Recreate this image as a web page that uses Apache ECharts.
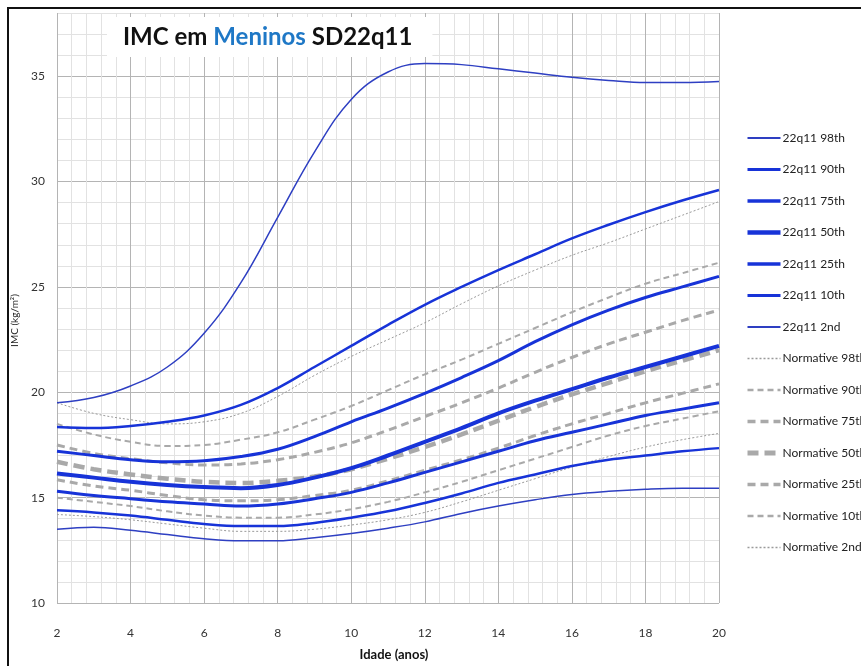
<!DOCTYPE html>
<html>
<head>
<meta charset="utf-8">
<script src="https://cdn.jsdelivr.net/npm/echarts@6/dist/echarts.min.js"></script>
<style>
html,body{margin:0;padding:0;background:#fff;}
#chart{width:861px;height:666px;}
</style>
</head>
<body>
<div id="chart"></div>
<script>
// Ages (years)
const ages = [2,3,4,5,6,7,8,9,10,11,12,13,14,15,16,17,18,19,20];

// 22q11 percentiles (IMC kg/m2)
const q98 = [19.5,19.75,20.3,21.2,22.8,25.2,28.3,31.4,33.9,35.2,35.6,35.55,35.35,35.15,34.95,34.8,34.7,34.7,34.75];
const q90 = [18.35,18.3,18.4,18.6,18.9,19.4,20.2,21.2,22.2,23.2,24.15,25.0,25.8,26.55,27.3,27.95,28.55,29.1,29.6];
const q75 = [17.2,17.0,16.8,16.7,16.75,16.95,17.3,17.9,18.6,19.25,19.95,20.7,21.5,22.4,23.2,23.9,24.5,25.0,25.5];
const q50 = [16.15,15.95,15.75,15.6,15.5,15.45,15.6,15.95,16.4,17.0,17.65,18.3,19.0,19.6,20.15,20.7,21.2,21.7,22.2];
const q25 = [15.3,15.1,14.95,14.8,14.7,14.6,14.7,14.95,15.25,15.7,16.2,16.7,17.2,17.7,18.1,18.5,18.9,19.2,19.5];
const q10 = [14.4,14.3,14.15,13.95,13.75,13.65,13.65,13.8,14.05,14.35,14.75,15.2,15.7,16.1,16.5,16.8,17.0,17.2,17.35];
const q02 = [13.5,13.6,13.45,13.25,13.05,12.95,12.95,13.1,13.3,13.55,13.85,14.25,14.6,14.9,15.15,15.3,15.4,15.45,15.45];

// Normative percentiles
const n98 = [19.5,19.0,18.7,18.5,18.6,19.0,19.8,20.8,21.7,22.5,23.3,24.2,25.05,25.8,26.5,27.1,27.75,28.4,29.05];
const n90 = [18.5,18.0,17.65,17.45,17.5,17.75,18.1,18.7,19.35,20.1,20.85,21.55,22.3,23.05,23.8,24.5,25.15,25.65,26.15];
const n75 = [17.5,17.1,16.85,16.65,16.55,16.6,16.8,17.15,17.6,18.2,18.85,19.5,20.2,20.95,21.65,22.3,22.85,23.4,23.9];
const n50 = [16.7,16.35,16.1,15.9,15.75,15.7,15.8,16.0,16.35,16.85,17.4,18.0,18.65,19.3,19.9,20.45,21.0,21.5,22.0];
const n25 = [15.85,15.55,15.35,15.1,14.9,14.85,14.9,15.1,15.35,15.8,16.3,16.8,17.35,17.95,18.5,19.0,19.5,19.95,20.4];
const n10 = [15.0,14.8,14.6,14.35,14.15,14.05,14.05,14.2,14.45,14.8,15.25,15.75,16.3,16.85,17.4,17.95,18.4,18.75,19.1];
const n02 = [14.2,14.1,13.95,13.75,13.55,13.4,13.4,13.5,13.7,13.95,14.3,14.8,15.35,15.9,16.45,16.95,17.4,17.75,18.05];

const seriesNames = ['22q11 98th','22q11 90th','22q11 75th','22q11 50th','22q11 25th','22q11 10th','22q11 2nd',
  'Normative 98th','Normative 90th','Normative 75th','Normative 50th','Normative 25th','Normative 10th','Normative 2nd'];

const pairs = arr => ages.map((a,i)=>[a,arr[i]]);

const blueThin = '#2e3fc2', blue = '#1733d8';
const gray = '#a9a9a9', grayDot = '#9a9a9a';
const styles = {
  '22q11 98th':[blueThin,1.5,'solid'],
  '22q11 90th':[blue,2.5,'solid'],
  '22q11 75th':[blue,3,'solid'],
  '22q11 50th':[blue,4,'solid'],
  '22q11 25th':[blue,3,'solid'],
  '22q11 10th':[blue,2.5,'solid'],
  '22q11 2nd':[blueThin,1.5,'solid'],
  'Normative 98th':[grayDot,1,[2,2]],
  'Normative 90th':[gray,2,[6,4]],
  'Normative 75th':[gray,3,[8,5]],
  'Normative 50th':[gray,4.5,[11,6]],
  'Normative 25th':[gray,3,[8,5]],
  'Normative 10th':[gray,2,[6,4]],
  'Normative 2nd':[grayDot,1,[2,2]]
};
const dataByName = {
  '22q11 98th':q98,'22q11 90th':q90,'22q11 75th':q75,'22q11 50th':q50,'22q11 25th':q25,'22q11 10th':q10,'22q11 2nd':q02,
  'Normative 98th':n98,'Normative 90th':n90,'Normative 75th':n75,'Normative 50th':n50,'Normative 25th':n25,'Normative 10th':n10,'Normative 2nd':n02
};
const drawOrder = seriesNames.slice(7).concat(seriesNames.slice(0,7));
const series = drawOrder.map(name=>{
  const [color,width,type] = styles[name];
  return {name, type:'line', data:pairs(dataByName[name]), smooth:0.4, symbol:'none',
    z: name.startsWith('22q11') ? 3 : 2,
    lineStyle:{color, width, type}, itemStyle:{color}, emphasis:{disabled:true}};
});
const legendData = seriesNames.map(name=>{
  const [color,width,type] = styles[name];
  return {name, lineStyle:{color, width: width+0.5, type}, itemStyle:{opacity:0}};
});

const major = '#b4b4b4', minor = '#e2e2e2';
const chart = echarts.init(document.getElementById('chart'), null, {renderer:'canvas'});
chart.setOption({
  animation:false,
  backgroundColor:'#fff',
  title:{
    text:'{a|IMC em }{b|Meninos}{a| SD22q11}',
    left:107, top:17,
    padding:[8,20,8,16],
    backgroundColor:'#fff',
    textStyle:{rich:{
      a:{fontFamily:'Lato', fontWeight:'bold', fontSize:24, color:'#111'},
      b:{fontFamily:'Lato', fontWeight:'bold', fontSize:24, color:'#1f78c6'}
    }}
  },
  legend:{
    orient:'vertical', left:745, top:131, padding:0,
    data:legendData,
    itemWidth:33, itemHeight:14, itemGap:17.5,
    itemStyle:{opacity:0},
    textStyle:{fontFamily:'Lato', fontSize:12, color:'#222', padding:[0,0,0,-3], lineHeight:14},
    selectedMode:false
  },
  grid:{left:57, top:13, width:662, height:599},
  xAxis:{
    type:'value', min:2, max:20, interval:0.4,
    name:'Idade (anos)', nameLocation:'middle', nameGap:45,
    nameTextStyle:{fontFamily:'Lato', fontWeight:'bold', fontSize:13, color:'#111', padding:[0,0,0,12]},
    axisLine:{show:false}, axisTick:{show:false},
    axisLabel:{margin:24, fontFamily:'Lato', fontSize:12, color:'#333',
      formatter:v=>{const r=Math.round(v); return (Math.abs(v-r)<1e-6 && r%2===0)?String(r):'';}},
    splitLine:{show:true, lineStyle:{color:[major,minor,minor,minor,minor], width:1}}
  },
  yAxis:{
    type:'value', min:10, max:38, interval:1,
    name:'IMC (kg/m²)', nameLocation:'middle', nameGap:34, nameRotate:90,
    nameTextStyle:{fontFamily:'Lato', fontSize:10, color:'#222', padding:[0,0,0,-25]},
    axisLine:{show:false}, axisTick:{show:false},
    axisLabel:{margin:12, fontFamily:'Lato', fontSize:12, color:'#333',
      formatter:v=>{const r=Math.round(v); return (r%5===0 && r<=35)?String(r):'';}},
    splitLine:{show:true, lineStyle:{color:[major,minor,minor,minor,minor], width:1}}
  },
  graphic:[
    {type:'rect', shape:{x:8, y:8, width:900, height:700}, style:{fill:null, stroke:'#111', lineWidth:2}, z:100, silent:true}
  ],
  series
});
</script>
</body>
</html>
